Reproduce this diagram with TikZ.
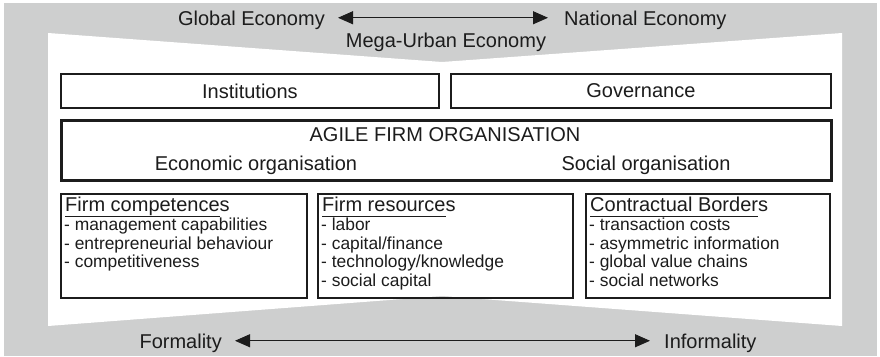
\documentclass[tikz,border=0pt]{standalone}
\usepackage{fontspec}
\setmainfont{Liberation Sans}
\usetikzlibrary{positioning,arrows.meta}
\definecolor{bandgray}{RGB}{206,207,207}
\definecolor{inkgray}{RGB}{28,28,28}
% heading of a list box, last letter left without underline
\newsavebox\headbox
\newcommand{\boxhead}[2]{\sbox\headbox{#1}\rlap{\rule[-5.4pt]{\wd\headbox}{1.1pt}}\usebox\headbox#2}
\tikzset{
    plaintext/.style={font=\fontsize{20}{24}\selectfont, text=inkgray, inner sep=0pt, text depth=0pt},
    framebox/.style={plaintext, draw=inkgray, line width=1.8pt, anchor=north west},
    headtext/.style={plaintext, anchor=base west},
    listtext/.style={font=\fontsize{17.4}{18.4}\selectfont, text=inkgray, inner sep=0pt, align=left, anchor=north west},
    axis/.style={{Triangle[length=15pt,width=13pt]}-{Triangle[length=15pt,width=13pt]}, line width=0.9pt, draw=inkgray},
}
\begin{document}
\begin{tikzpicture}[x=1pt, y=-1pt]
    \useasboundingbox (0,0) rectangle (880,356);
    % grey band with the white pinched panel on top
    \fill[bandgray] (4,3) rectangle (877,356);
    \fill[white] (48,33) -- (442,62) -- (842,33) -- (842,326) -- (442,296) -- (48,326) -- cycle;

    % economy scale
    \node[plaintext, anchor=base east] (global) at (325,25) {Global Economy};
    \node[plaintext, anchor=base west] (national) at (564,25) {National Economy};
    \draw[axis, shorten <=13pt, shorten >=16pt] (global) -- (national);
    \node[plaintext, anchor=base] (megaurban) at (446,47) {Mega-Urban Economy};

    % framework
    \node[framebox, minimum width=378pt, minimum height=34pt] (institutions) at (60,73) {Institutions};
    \node[framebox, minimum width=380pt, minimum height=34pt] (governance) at (450,73) {Governance};

    \node[framebox, line width=3pt, minimum width=770pt, minimum height=60pt] (agile) at (60,119) {};
    \node[plaintext, anchor=base] (agiletitle) at (445,141) {AGILE FIRM ORGANISATION};
    \node[plaintext, anchor=base] (economic) at (256,170) {Economic organisation};
    \node[plaintext, anchor=base] (social) at (646,170) {Social organisation};

    % the three lists
    \node[framebox, minimum width=246pt, minimum height=104pt] (competences) at (60,193) {};
    \node[framebox, minimum width=255pt, minimum height=104pt] (resources) at (317,193) {};
    \node[framebox, minimum width=244pt, minimum height=104pt] (borders) at (585,193) {};

    \node[headtext] (competencehead) at ([shift={(5pt,-18.5pt)}]competences.north west) {\boxhead{Firm competence}{s}};
    \node[headtext] (resourcehead) at ([shift={(5pt,-18.5pt)}]resources.north west) {\boxhead{Firm resource}{s}};
    \node[headtext] (borderhead) at ([shift={(5pt,-18.5pt)}]borders.north west) {\boxhead{Contractual Border}{s}};

    \node[listtext, below right=6.5pt and -1pt of competencehead.base west] (competencelist) {%
        - management capabilities\\
        - entrepreneurial behaviour\\
        - competitiveness};
    \node[listtext, below right=6.5pt and -1pt of resourcehead.base west] (resourcelist) {%
        - labor\\
        - capital/finance\\
        - technology/knowledge\\
        - social capital};
    \node[listtext, below right=6.5pt and -1pt of borderhead.base west] (borderlist) {%
        - transaction costs\\
        - asymmetric information\\
        - global value chains\\
        - social networks};

    % formality scale
    \node[plaintext, anchor=base east] (formality) at (222,348) {Formality};
    \node[plaintext, anchor=base west] (informality) at (664,348) {Informality};
    \draw[axis, shorten <=13pt, shorten >=14pt] (formality) -- (informality);
\end{tikzpicture}
\end{document}
